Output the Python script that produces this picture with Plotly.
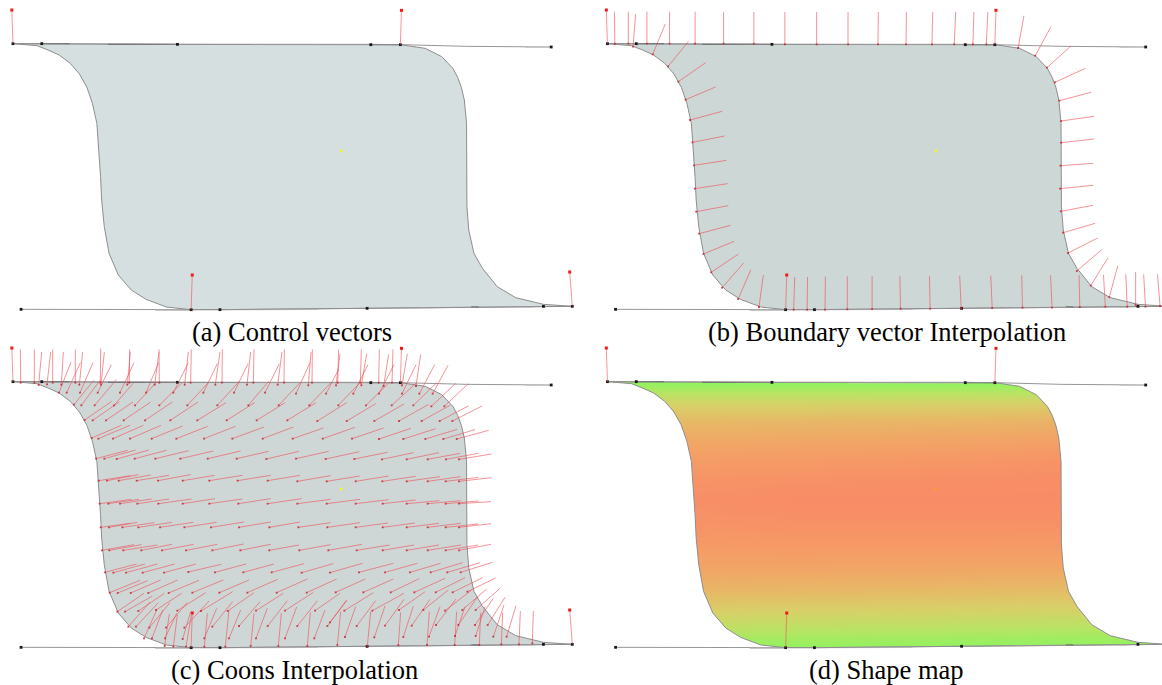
import plotly.graph_objects as go
import numpy as np

# ---- values; each group is given in the units of the crop it was read from
CAPTIONS = ["(a) Control vectors", "(b) Boundary vector Interpolation", "(c) Coons Interpolation", "(d) Shape map"]
CAPTION_X = [292, 886.5, 294, 886]
CAPTION_Y = [332, 332, 670, 670]

# outline of the surface (x/2.705, y/3 gives pixels in panel a)
OUT_X = [35,100,130,160,190,215,235,250,262,268,272,275,282,295,320,355,395,450,517,595,993,1285,1470,1548,
         1470,1395,1345,1305,1282,1268,1263,1263,1262,1256,1248,1238,1225,1195,1150,1083,1003,480,113]
OUT_Y = [131,137,150,165,190,222,262,310,370,450,530,600,680,760,825,870,898,921,929,929,925,921,919,919,
         913,893,860,805,760,690,620,450,370,300,262,232,205,170,145,134,133,133,131]
TOP_X = [35,113,480,1003,1083,1262,1491]
TOP_Y = [131,131,133,134,134,139,141]
BOT_X = [57,517,595,993,1285,1470,1548]
BOT_Y = [928,929,929,925,921,919,919]
NODE_X = [35,113,480,1003,1083,1491,57,517,595,993,1470,1548]
NODE_Y = [131,131,133,134,134,141,928,929,929,925,919,919]
DARK = [(113,131,188,131),(292,133,480,133),(1275,921,1295,921),(1003,134,1083,134)]
LIGHT = [(683,134,1003,134),(420,931,517,931),(595,929,860,928),(1135,923,1285,922),(1420,142,1491,142),(1417,921,1440,921)]
CTRL = [(35,131,32,30),(1083,134,1086,31),(517,929,520,825),(1548,919,1541,816)]
CENTER = (923,453)

# panel b vectors (590 + x/2.74, y/3)
B_VEC = [(68,131,67,35),(105,131,105,35),(118,140,125,42),(156,131,156,35),(172,163,206,72),(218,131,218,35),
 (214,199,270,124),(288,131,288,35),(242,245,317,188),(366,131,366,36),(262,299,344,261),(449,131,449,36),
 (274,360,362,334),(534,133,534,36),(621,133,621,36),(707,133,707,36),(789,133,790,36),(866,133,867,36),
 (937,133,939,36),(998,133,1002,36),(1049,133,1052,36),(1086,133,1090,36),(1173,144,1189,47),(1220,167,1263,80),
 (1252,203,1318,138),(1274,247,1357,205),(1286,302,1373,277),(1291,363,1381,349),(1291,428,1381,417),
 (1289,497,1379,490),(1288,566,1379,556),(1290,634,1378,616),(1296,698,1384,670),(1310,759,1391,714),
 (1334,813,1403,748),(1372,857,1419,774),(1423,891,1446,798),(1412,920,1407,825),(1472,920,1468,823),
 (1495,915,1495,816),(1522,920,1517,823),(1562,918,1555,823),(1342,921,1340,825),(1266,923,1262,826),
 (1185,923,1183,826),(1102,924,1098,827),(1017,925,1013,827),(932,926,930,828),(851,926,849,828),(773,927,773,828),
 (705,928,705,829),(644,929,645,830),(595,929,596,831),(558,929,561,831),(463,921,475,825),(406,897,441,809),
 (362,863,421,789),(332,817,407,762),(311,762,395,724),(299,701,385,676),(291,635,379,617),(287,566,377,551),
 (285,496,374,481),(281,427,369,408)]

# panel c vectors, per crop: origin (x0,y0), pixels = origin + value/3
C_VEC = {
 (0,340): [(62,128,61,28),(103,128,103,28),(158,128,158,28),(226,128,226,28),(301,128,302,26),(388,128,389,28),
   (478,128,477,28),(572,128,574,28),(666,128,667,28),(760,128,762,28),(852,128,853,28),
   (288,356,383,331),(313,356,407,330),(350,357,447,330),(404,356,500,331),(466,356,566,332),(541,356,640,333),
   (623,356,722,333),(710,356,806,334),(799,357,897,334),
   (296,422,392,407),(321,422,415,404),(356,422,452,405),(410,422,507,406),(474,422,572,404),(548,422,644,406),
   (628,422,727,406),(713,422,812,406),(803,422,900,406),
   (299,491,394,478),(325,491,417,478),(360,491,455,477),(412,491,507,477),(475,491,575,477),(548,491,645,476),
   (628,491,727,477),(715,491,812,476),(803,491,905,476),
   (302,562,390,550),(327,562,412,547),(367,562,463,548),(415,562,516,547),(480,562,580,547),(553,562,650,547),
   (633,562,732,546),(717,562,812,546),(808,562,900,546),
   (306,631,402,614),(328,631,425,614),(370,631,472,615),(424,631,516,613),(486,631,581,613),(558,631,652,613),
   (637,631,731,612),(721,631,812,613),(808,631,897,615)],
 (290,340): [(66,128,67,28),(143,128,146,28),(211,128,214,28),(266,128,268,28),(306,128,309,28),
   (18,356,116,334),(107,357,208,335),(193,357,292,337),(276,358,371,338),(350,358,447,338),(413,358,510,340),
   (468,358,565,340),(507,358,605,342),
   (22,424,122,407),(110,424,209,408),(197,424,296,408),(277,424,377,409),(350,424,450,410),(413,424,512,410),
   (467,424,565,412),(507,424,605,413),
   (22,491,122,478),(110,491,210,478),(197,491,296,479),(278,491,377,480),(350,491,448,482),(413,491,512,482),
   (467,491,565,483),(507,491,603,485),
   (25,562,122,548),(112,562,210,548),(197,562,294,549),(278,562,375,549),(350,562,447,550),(413,562,512,550),
   (467,562,564,552),(507,562,603,551),
   (28,631,122,614),(115,631,216,613),(200,631,299,615),(278,631,372,615),(350,631,447,615),(413,631,513,615),
   (467,631,564,615),(507,631,603,613)],
 (0,342): [(116,129,125,30),(141,127,152,30),(184,128,190,30),(238,128,248,30),(303,128,313,30),(382,128,391,30),
   (464,128,477,30),(554,128,565,30),(646,128,660,30),(741,128,752,30),(833,128,846,30),
   (177,152,213,60),(200,152,241,62),(240,152,279,62),(293,152,334,68),(360,152,402,62),(438,152,476,62),
   (520,152,565,62),(610,152,652,65),(702,152,744,65),(795,152,838,65),(888,155,930,62),
   (222,188,281,115),(244,190,300,115),(284,190,349,113),(342,190,403,120),(405,190,470,120),(478,190,546,122),
   (562,190,625,122),(652,190,718,118),(745,190,806,118),(836,190,900,122),
   (254,234,335,178),(278,235,358,180),(318,235,399,180),(371,235,452,180),(435,235,517,180),(511,235,594,180),
   (592,235,678,182),(680,235,764,182),(770,235,855,182),(862,235,948,182),
   (275,288,364,250),(295,290,390,250),(339,290,430,250),(390,290,483,250),(455,290,548,252),(529,290,623,253),
   (612,290,706,253),(697,290,792,255),(788,290,880,255),(878,290,970,258)],
 (290,342): [(55,130,63,30),(138,130,150,35),(214,130,230,35),(281,132,296,37),(336,130,352,35),(378,132,392,38),
   (108,155,147,80),(190,155,234,68),(267,155,312,68),(336,155,378,68),(388,155,434,68),(428,155,474,70),
   (58,190,125,120),(145,190,212,120),(228,190,297,122),(305,190,380,122),(370,190,440,122),(424,193,497,124),(463,193,535,125),
   (82,237,170,182),(170,237,257,185),(253,237,342,186),(327,237,416,187),(395,237,480,190),(449,237,535,192),(487,237,576,192),
   (98,290,195,256),(186,290,281,258),(267,291,363,259),(340,291,437,260),(406,291,502,262),(460,291,555,263),(500,291,596,265)],
 (90,560): [(45,37,140,12),(70,38,165,12),(108,38,202,12),(158,38,254,12),(222,38,318,12),(295,36,394,13),(375,37,468,12),
   (460,37,552,12),(545,37,642,11),(635,38,730,11),
   (59,98,150,61),(83,99,173,62),(122,99,212,60),(175,99,263,60),(236,99,327,61),(307,98,400,60),(388,98,477,60),
   (472,98,563,58),(560,98,652,57),(650,98,740,57),
   (82,155,162,100),(105,155,187,108),(145,153,223,100),(198,150,275,100),(262,152,347,98),(333,153,428,95),
   (413,153,492,98),(498,152,580,100),(585,152,670,97),(675,152,750,100),
   (115,200,180,126),(138,200,205,128),(178,203,240,128),(228,203,292,127),(283,203,357,123),(367,200,428,125),
   (447,198,510,125),(533,198,592,122),(622,198,682,122),(712,198,770,122),
   (162,235,200,150),(186,235,218,150),(225,235,260,160),(278,237,302,155),(343,235,380,145),(417,235,452,150),
   (498,235,532,145),(585,235,620,141),(673,235,705,150),
   (224,258,238,162),(250,260,262,165),(288,260,305,160),(343,260,352,160),(406,260,417,150),(482,258,492,160),
   (565,258,574,160),(652,258,661,157)],
 (330,560): [(0,38,97,10),(87,37,190,10),(165,37,262,10),(240,37,332,10),(302,37,398,8),(352,37,450,8),(392,37,487,7),
   (17,97,106,57),(100,97,190,57),(182,97,268,56),(253,97,345,55),(317,97,405,53),(368,97,458,53),(412,95,497,54),
   (43,152,130,98),(127,152,222,100),(207,150,285,95),(280,150,355,90),(345,152,425,90),(397,150,470,87),(437,150,510,85),
   (0,187,50,120),(80,198,137,122),(165,197,222,118),(245,197,300,118),(318,195,378,117),(385,195,443,110),(435,195,490,115),(473,195,525,112),
   (45,231,77,140),(133,232,165,138),(220,231,250,138),(297,230,330,140),(375,228,405,140),(437,228,465,140),(490,230,522,135),(530,230,558,137),
   (22,255,32,155),(112,258,122,155),(205,255,212,157),(291,255,298,155),(374,255,380,155),(448,255,452,158),(514,253,518,158),(567,253,571,153),(607,250,610,153)],
}

# panel d colour levels, read by row (page y) at x positions
MAP_X = [601, 603, 800, 1000, 1165, 1167]
MAP_Y = [380, 385, 392, 403, 420, 440, 460, 480, 500, 520, 540, 565, 590, 610, 630, 640, 650]
MAP_Z = [[0.00,0.00,0.00,0.00,0.00,0.00],[0.05,0.05,0.05,0.05,0.05,0.05],[0.20,0.20,0.20,0.20,0.22,0.22],
         [0.38,0.38,0.38,0.40,0.42,0.42],[0.52,0.52,0.54,0.56,0.60,0.60],
         [0.66,0.66,0.68,0.72,0.78,0.78],[0.78,0.78,0.82,0.88,0.95,0.95],[0.88,0.88,0.94,0.98,1.00,1.00],
         [0.94,0.94,1.00,1.00,1.00,1.00],[0.90,0.90,0.95,0.95,0.96,0.96],
         [0.84,0.84,0.86,0.86,0.85,0.85],[0.72,0.72,0.72,0.70,0.68,0.68],[0.56,0.56,0.54,0.52,0.50,0.50],
         [0.42,0.42,0.40,0.38,0.36,0.36],[0.22,0.22,0.20,0.18,0.16,0.16],
         [0.10,0.10,0.08,0.06,0.05,0.05],[0.00,0.00,0.00,0.00,0.00,0.00]]
MAP_COLORS = [[0,"#8FF45E"],[0.2,"#B8E464"],[0.4,"#D8D068"],[0.55,"#E8B766"],[0.7,"#F2A566"],[0.85,"#F69866"],[1,"#F88C66"]]

PANEL_OFF = [(0,0),(594.5,0),(0,338),(594.5,338)]
FILLS = ["#D5DFDF","#CDD7D6","#CED7D6",None]
SX, SY = 2.705, 3.0
VEC_COLOR = "rgba(238,80,90,0.62)"
BASE_COLOR = "rgba(200,35,45,0.85)"

fig = go.Figure()

def seg_xy(segs, ox, oy, sx=SX, sy=SY, bx=0.0):
    xs, ys = [], []
    for a,b,c,d in segs:
        xs += [bx+a/sx+ox, bx+c/sx+ox, None]
        ys += [b/sy+oy, d/sy+oy, None]
    return xs, ys

def add_line(xs, ys, color, w):
    fig.add_trace(go.Scatter(x=xs, y=ys, mode="lines", line=dict(color=color, width=w), hoverinfo="skip"))

def add_pts(xs, ys, color, size):
    fig.add_trace(go.Scatter(x=xs, y=ys, mode="markers", hoverinfo="skip",
                             marker=dict(color=color, size=size, symbol="square", line=dict(width=0))))

ox_arr = np.array(OUT_X)/SX
oy_arr = np.array(OUT_Y)/SY

# panel d heat map and white mask around it
fig.add_trace(go.Heatmap(x=MAP_X, y=MAP_Y, z=MAP_Z, colorscale=MAP_COLORS, zmin=0, zmax=1,
                         zsmooth="best", showscale=False, hoverinfo="skip"))
ox, oy = PANEL_OFF[3]
mx = [596,1172,1172,596,596] + list(ox_arr+ox) + [ox_arr[0]+ox, 596]
my = [370,370,662,662,370] + list(oy_arr+oy) + [oy_arr[0]+oy, 370]
fig.add_trace(go.Scatter(x=mx, y=my, mode="lines", fill="toself", fillcolor="white",
                         line=dict(width=0, color="white"), hoverinfo="skip"))

for i,(ox,oy) in enumerate(PANEL_OFF):
    if FILLS[i]:
        fig.add_trace(go.Scatter(x=list(ox_arr+ox), y=list(oy_arr+oy), mode="lines", fill="toself",
                                 fillcolor=FILLS[i], line=dict(width=0, color=FILLS[i]), hoverinfo="skip"))
    add_line(list(np.array(TOP_X)/SX+ox), list(np.array(TOP_Y)/SY+oy), "#969696", 1)
    add_line(list(np.array(BOT_X)/SX+ox), list(np.array(BOT_Y)/SY+oy), "#969696", 1)
    xs, ys = seg_xy(LIGHT, ox, oy); add_line(xs, ys, "#c6c6c6", 1.2)
    xs, ys = seg_xy(DARK, ox, oy); add_line(xs, ys, "#444444", 1)
    add_line(list(ox_arr+ox)+[ox_arr[0]+ox], list(oy_arr+oy)+[oy_arr[0]+oy], "#8e8e8e", 1)
    add_pts(list(np.array(NODE_X)/SX+ox), list(np.array(NODE_Y)/SY+oy), "#181818", 2.8)
    xs, ys = seg_xy(CTRL, ox, oy); add_line(xs, ys, "rgba(240,80,90,0.6)", 1)
    add_pts([c[2]/SX+ox for c in CTRL], [c[3]/SY+oy for c in CTRL], "#F01818", 3)
    add_pts([CENTER[0]/SX+ox], [CENTER[1]/SY+oy], "#F7F520" if i<3 else "#F9A030", 2.5)

# panel b
xs, ys = seg_xy(B_VEC, 0, 0, sx=2.74, sy=3.0, bx=590.0)
add_line(xs, ys, VEC_COLOR, 1)
add_pts([590+v[0]/2.74 for v in B_VEC], [v[1]/3 for v in B_VEC], BASE_COLOR, 1.8)

# panel c
for (x0,y0), segs in C_VEC.items():
    xs, ys = seg_xy(segs, 0, 0, sx=3.0, sy=3.0, bx=0.0)
    xs = [None if v is None else v+x0 for v in xs]
    ys = [None if v is None else v+y0 for v in ys]
    add_line(xs, ys, VEC_COLOR, 1)
    add_pts([x0+v[0]/3 for v in segs], [y0+v[1]/3 for v in segs], BASE_COLOR, 1.8)

for t,x,y in zip(CAPTIONS, CAPTION_X, CAPTION_Y):
    fig.add_annotation(x=x, y=y, text=t, showarrow=False, xanchor="center", yanchor="middle",
                       font=dict(family="Liberation Serif", size=26.5, color="#000000"))

fig.update_layout(width=1162, height=685, margin=dict(l=0,r=0,t=0,b=0), showlegend=False,
                  paper_bgcolor="white", plot_bgcolor="white",
                  xaxis=dict(range=[0,1162], visible=False, fixedrange=True),
                  yaxis=dict(range=[685,0], visible=False, fixedrange=True))
fig.write_html("out.html", post_script="document.body.style.margin='0';", config={"displayModeBar": False})
